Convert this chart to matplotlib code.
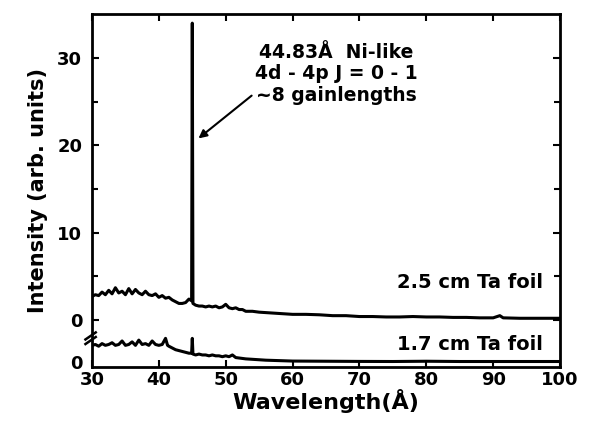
import matplotlib
matplotlib.use("Agg")
import matplotlib.pyplot as plt

plt.rcParams['font.family'] = ['DejaVu Sans']
plt.rcParams['font.weight'] = 'bold'

# 2.5 cm Ta foil (upper trace)
wl_25 = [30.0, 30.5, 31.0, 31.5, 32.0, 32.5, 33.0, 33.5, 34.0, 34.5, 35.0, 35.5, 36.0, 36.5,
         37.0, 37.5, 38.0, 38.5, 39.0, 39.5, 40.0, 40.5, 41.0, 41.5, 42.0, 42.5, 43.0, 43.5,
         44.0, 44.5, 44.9, 45.0, 45.1, 45.5, 46.0, 46.5, 47.0, 47.5, 48.0, 48.5, 49.0, 49.5,
         50.0, 50.5, 51.0, 51.5, 52.0, 52.5, 53.0, 54.0, 55.0, 56.0, 57.0, 58.0, 59.0, 60.0,
         62.0, 64.0, 66.0, 68.0, 69.0, 70.0, 72.0, 74.0, 76.0, 78.0, 80.0, 82.0, 84.0, 86.0,
         88.0, 90.0, 91.0, 91.5, 94.0, 96.0, 98.0, 100.0]
int_25 = [2.7, 2.9, 2.8, 3.2, 2.9, 3.4, 3.0, 3.7, 3.1, 3.3, 2.9, 3.6, 3.0, 3.5,
          3.1, 2.9, 3.3, 2.9, 2.8, 3.0, 2.6, 2.8, 2.5, 2.6, 2.3, 2.1, 1.9, 1.9,
          2.0, 2.4, 2.2, 34.0, 1.9, 1.7, 1.6, 1.6, 1.5, 1.6, 1.5, 1.6, 1.4, 1.5,
          1.8, 1.4, 1.3, 1.4, 1.2, 1.2, 1.0, 1.0, 0.9, 0.85, 0.8, 0.75, 0.7, 0.65,
          0.65, 0.6, 0.5, 0.5, 0.45, 0.4, 0.4, 0.35, 0.35, 0.4, 0.35, 0.35, 0.3, 0.3,
          0.25, 0.25, 0.5, 0.25, 0.2, 0.2, 0.2, 0.2]

# 1.7 cm Ta foil (lower trace, own zero)
wl_17 = [30.0, 30.5, 31.0, 31.5, 32.0, 32.5, 33.0, 33.5, 34.0, 34.5, 35.0, 35.5, 36.0, 36.5,
         37.0, 37.5, 38.0, 38.5, 39.0, 39.5, 40.0, 40.5, 41.0, 41.3, 41.5, 42.0, 42.5, 43.0,
         43.5, 44.0, 44.5, 44.9, 45.0, 45.1, 45.5, 46.0, 46.5, 47.0, 47.5, 48.0, 48.5, 49.0,
         49.5, 50.0, 50.5, 51.0, 51.5, 52.0, 53.0, 54.0, 55.0, 56.0, 58.0, 60.0, 65.0, 70.0,
         75.0, 80.0, 85.0, 90.0, 95.0, 100.0]
int_17 = [1.9, 2.0, 1.8, 2.1, 1.9, 2.0, 2.2, 1.9, 2.0, 2.4, 1.9, 2.0, 2.3, 1.9,
          2.5, 2.0, 2.1, 1.9, 2.4, 2.0, 1.9, 2.0, 2.7, 1.9, 1.8, 1.6, 1.4, 1.3,
          1.2, 1.1, 1.0, 1.0, 2.7, 0.9, 0.8, 0.9, 0.8, 0.8, 0.7, 0.8, 0.7, 0.7,
          0.6, 0.7, 0.6, 0.8, 0.5, 0.45, 0.35, 0.3, 0.25, 0.2, 0.15, 0.1, 0.08, 0.06,
          0.05, 0.08, 0.05, 0.05, 0.05, 0.05]
offset_17 = -4.8

x_ticks = [30, 40, 50, 60, 70, 80, 90, 100]
y_ticks = [offset_17, 0, 10, 20, 30]
y_ticklabels = ['0', '0', '10', '20', '30']

fig = plt.figure(figsize=(5.93, 4.22), dpi=100)
ax = fig.add_axes([92/593, 55/422, 468/593, 353/422])

ax.plot(wl_25, int_25, color='black', lw=2.2)
ax.plot(wl_17, [v + offset_17 for v in int_17], color='black', lw=2.2)

ax.set_xlim(30, 100)
ax.set_ylim(-5.38, 35.05)
ax.set_xticks(x_ticks)
ax.set_yticks(y_ticks)
ax.set_yticklabels(y_ticklabels)
ax.set_yticks([5, 15, 25], minor=True)
for s in ax.spines.values():
    s.set_linewidth(2)
ax.tick_params(axis='both', which='both', direction='in', top=True, right=True,
               width=1.5, labelsize=13)
ax.tick_params(axis='both', which='major', length=5)
ax.tick_params(axis='both', which='minor', length=4)
ax.tick_params(axis='y', pad=7)
ax.tick_params(axis='x', pad=3)
ax.yaxis.get_major_ticks()[0].tick1line.set_visible(False)
ax.yaxis.get_major_ticks()[0].tick2line.set_visible(False)

ax.set_xlabel('Wavelength(Å)', fontsize=16, fontweight='bold', labelpad=0)
ax.set_ylabel('Intensity (arb. units)', fontsize=15, fontweight='bold', labelpad=7)

ax.text(66.5, 28.2, '44.83Å  Ni-like\n4d - 4p J = 0 - 1\n~8 gainlengths',
        ha='center', va='center', fontsize=13.5, fontweight='bold', linespacing=1.15)
ax.annotate('', xy=(45.6, 20.6), xytext=(54.2, 25.9),
            arrowprops=dict(arrowstyle='-|>', color='black', lw=1.5, mutation_scale=12))

ax.text(97.4, 4.35, '2.5 cm Ta foil', ha='right', va='center', fontsize=14, fontweight='bold')
ax.text(97.4, -2.85, '1.7 cm Ta foil', ha='right', va='center', fontsize=14, fontweight='bold')

# axis break marks
for dy in (0.0, 0.013):
    ax.plot([-0.014, 0.008], [0.075 + dy - 0.01, 0.075 + dy + 0.01], transform=ax.transAxes,
            color='black', lw=1.8, clip_on=False)

fig.savefig('out.png', dpi=100)
